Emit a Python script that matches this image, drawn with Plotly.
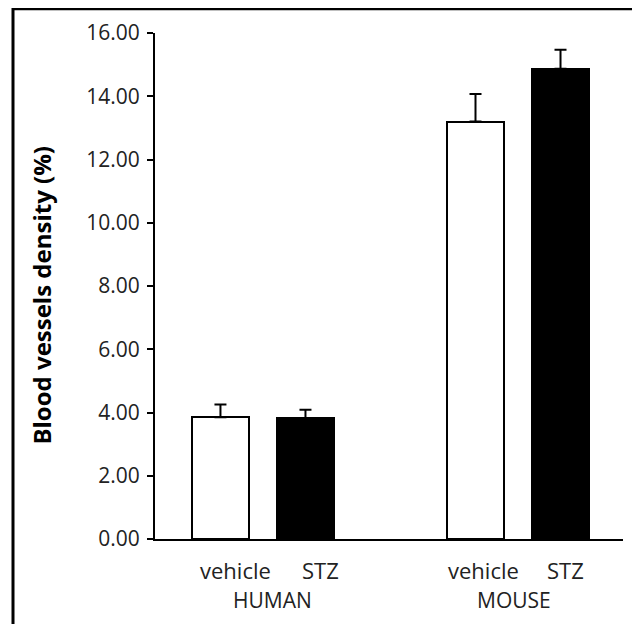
import plotly.graph_objects as go

# ---- data ----
bar_positions = [0, 1, 3, 4]
bar_labels = ["vehicle", "STZ", "vehicle", "STZ"]
bar_values = [3.85, 3.83, 13.20, 14.87]
bar_errors = [0.40, 0.26, 0.87, 0.60]
bar_colors = ["white", "black", "white", "black"]
group_labels = ["HUMAN", "MOUSE"]
group_positions = [0.5, 3.5]
y_ticks = [0, 2, 4, 6, 8, 10, 12, 14, 16]
y_title = "Blood vessels density (%)"

FONT = "Open Sans"

# plot area in figure pixels
L, R, T, B = 147, 615, 25.3, 531.5
W, H = 640, 624

fig = go.Figure()
fig.add_trace(go.Bar(
    x=bar_positions,
    y=bar_values,
    width=0.66,
    marker=dict(color=bar_colors, line=dict(color="black", width=2)),
    error_y=dict(type="data", array=bar_errors, arrayminus=[0] * len(bar_errors),
                 symmetric=False, color="black", thickness=2, width=6),
    showlegend=False,
))

label_shifts = [15, 15, 8, 5]
for xp, lab, sh in zip(bar_positions, bar_labels, label_shifts):
    fig.add_annotation(x=xp, y=0, xref="x", yref="y", text=lab, showarrow=False,
                       xshift=sh, yshift=-31, yanchor="middle", xanchor="center",
                       font=dict(family=FONT, size=22, color="#222"))
group_shifts = [10, -4]
for xp, lab, sh in zip(group_positions, group_labels, group_shifts):
    fig.add_annotation(x=xp, y=0, xref="x", yref="y", text=lab, showarrow=False,
                       xshift=sh, yshift=-61, yanchor="middle", xanchor="center",
                       font=dict(family=FONT, size=21, color="#222"))

fig.add_annotation(x=(34 - L) / (R - L), y=(B - 288) / (B - T), xref="paper", yref="paper",
                   text="<b>" + y_title + "</b>",
                   textangle=-90, showarrow=False, xanchor="center", yanchor="middle",
                   font=dict(family=FONT, size=24, color="black"))

# outer frame (left and top edges visible)
fig.add_shape(type="rect", xref="paper", yref="paper",
              x0=(5 - L) / (R - L), x1=(700 - L) / (R - L),
              y0=(B - 700) / (B - T), y1=(B - 1) / (B - T),
              line=dict(color="black", width=3), fillcolor="rgba(0,0,0,0)", layer="below")

fig.update_layout(
    width=W, height=H,
    margin=dict(l=L, r=W - R, t=T, b=H - B, autoexpand=False),
    plot_bgcolor="white", paper_bgcolor="white",
    bargap=0,
    font=dict(family=FONT, color="#222"),
    xaxis=dict(range=[-0.77, 4.735], showline=True, linecolor="black", linewidth=2,
               showticklabels=False, ticks="", showgrid=False, zeroline=False, fixedrange=True),
    yaxis=dict(range=[0, 16], tickvals=y_ticks, tickformat=".2f", showline=True,
               linecolor="black", linewidth=2, ticks="outside", ticklen=6, tickwidth=2,
               tickcolor="black", showgrid=False, zeroline=False, ticklabelstandoff=3,
               tickfont=dict(family=FONT, size=21, color="#222")),
)

fig.write_html("out.html")
